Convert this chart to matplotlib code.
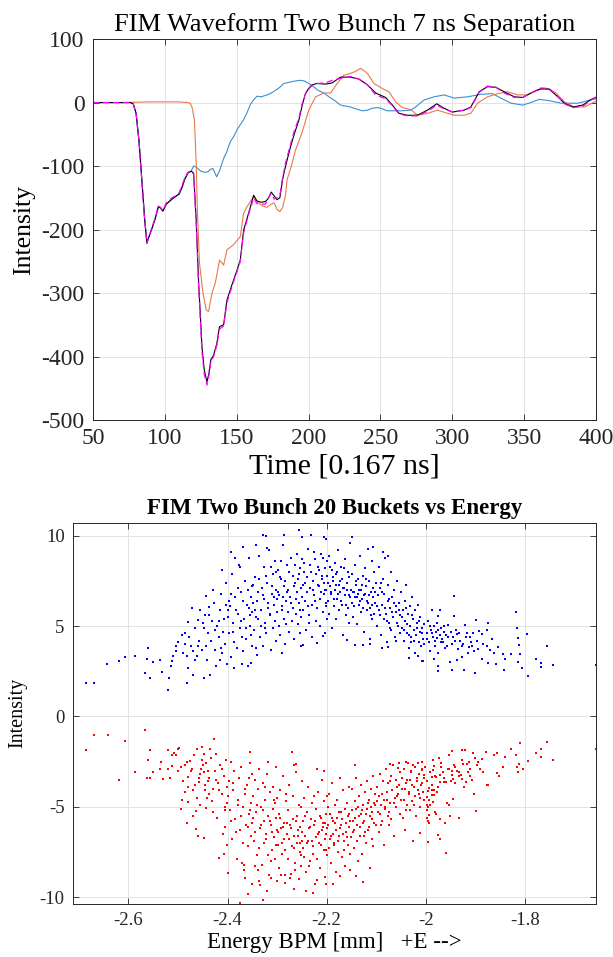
import numpy as np
import matplotlib
matplotlib.use("Agg")
import matplotlib.pyplot as plt

plt.rcParams['font.family'] = ['Liberation Serif', 'DejaVu Serif']
plt.rcParams['axes.unicode_minus'] = False

# ---------------- top panel: waveforms ----------------
# bunch 1 alone (blue)
t_b1 = [50, 60, 70, 76, 78, 80, 82, 84, 86, 87.5, 90, 93, 95.5, 97, 98.6, 101, 105, 108, 110, 112,
        114, 116, 118.3, 120, 122, 125, 128, 130, 132, 133.5, 136, 138, 140.9, 143, 145.5, 148, 150.2, 153, 154.8, 157,
        159.5, 162, 164.2, 167, 171.1, 174, 176.9, 180, 182.7, 185, 188.6, 191, 194.4, 197, 200.1, 203.6, 206, 210.6, 213, 217.6,
        222.2, 229.2, 231.5, 237.4, 240.9, 244.4, 247.8, 250.1, 254.8, 259.4, 264.1, 271.1, 274.5, 280.3, 287.3, 294.3, 301.3, 310.6, 319.9, 328,
        333.8, 340.8, 349, 354.7, 360.5, 367.5, 375.7, 387.3, 394.3, 400]
y_b1 = [0, 0, 0, 0, -2, -17, -60, -122, -185, -220, -205, -185, -164, -166, -171, -160, -152, -147, -144, -133,
        -120, -111, -108, -100, -102, -108, -110, -109, -105, -104, -117, -108, -88, -78, -62, -53, -43, -33, -27, -17,
        -3, 5, 10, 9, 12, 15, 19, 24, 30, 31, 33, 34, 35, 34, 30, 25, 20, 15, 11, 4,
        -4, -7, -9, -13, -12, -9, -8, -9, -13, -13, -13, -12, -7, 4, 9, 12, 7, 9, 13, 14,
        7, -1, -4, 0, 5, 3, -1, -1, 3, 6]

# bunch 2 alone (orange)
t_b2 = [50, 70, 90, 110, 116, 117.6, 119, 120.6, 121.8, 122.7, 124.1, 126.5, 128.8, 130.4, 132.8,
        135.1, 138.1, 140.9, 143.2, 147.8, 152.5, 154.8, 157.2, 161.8, 165, 168, 171, 174, 176, 178,
        180, 182, 184, 185, 188, 190.9, 194.4, 196.7, 200.1, 204.8, 210.6, 215.3, 219.9, 224.5, 229.2,
        232.7, 236.2, 240.9, 245.5, 251.3, 255.9, 260.6, 265.3, 271.1, 275.7, 282.7, 289.7, 296.7, 301.3, 308.2,
        312.9, 317.6, 324.5, 331.5, 338.5, 345.5, 352.4, 359.4, 366.4, 372.2, 378, 385, 392, 398.9, 400]
y_b2 = [0, 0, 1, 1, 0, -1, -8, -28, -95, -174, -253, -300, -327, -329, -300,
        -284, -248, -256, -232, -224, -211, -174, -164, -148, -158, -163, -165, -160, -158, -168,
        -172, -165, -145, -122, -100, -75, -54, -38, -12, 9, 15, 15, 30, 43, 46,
        49, 54, 46, 30, 22, 17, 1, -8, -11, -20, -17, -12, -17, -20, -20,
        -17, -1, 9, 14, 17, 12, 12, 20, 22, 15, 1, -7, -7, 1, 2]

# two bunches measured (black) and sum of singles (magenta)
t_two = [50, 60, 70, 76, 78, 80, 82, 84, 86, 87.5, 90, 93, 95.5, 97, 98.6, 101, 105, 108, 110, 112,
         114, 116, 118.3, 120, 121.8, 123.4, 124.6, 125.8, 127.4, 129.3, 130.7, 132, 133.9, 136.2, 138,
         140.9, 143.2, 146.7, 150.2, 152.5, 154.8, 158.3, 161.8, 164, 167, 170, 172, 174, 176, 178,
         180, 182, 184, 187.4, 190, 193.2, 195.5, 197.8, 200, 202.5, 206, 211.8, 216.4, 222.2, 229.2,
         235, 240.9, 246.7, 253.6, 258.3, 262.9, 268.8, 275.7, 282.7, 289.2, 294.3, 300.1, 308.2, 312.9, 318.7,
         324.5, 330.3, 336.1, 343.1, 348.9, 354.7, 361.7, 367.5, 373.4, 378, 383.8, 390.8, 396.6, 400]
y_meas = [0, 0, 0, 0, -2, -17, -60, -122, -185, -220, -205, -185, -164, -166, -171, -160, -152, -147, -144, -133,
          -120, -111, -108, -111, -185, -279, -331, -384, -421, -440, -426, -405, -398, -379, -353,
          -350, -311, -287, -264, -248, -201, -174, -146, -155, -157, -156, -151, -141, -147, -153,
          -150, -120, -100, -70, -50, -28, -5, 14, 22, 28, 30, 29, 31, 40, 40,
          37, 28, 15, 8, -4, -17, -20, -20, -12, -2, -9, -15, -12, -7, 17,
          25, 24, 17, 9, 8, 15, 22, 21, 9, -1, -7, -4, 5, 8]
y_sum = [0, 0, 0, 0, -2, -18, -62, -124, -187, -222, -204, -183, -163, -165, -170, -158, -150, -146, -142, -130,
         -118, -110, -107, -113, -190, -285, -338, -392, -428, -445, -430, -408, -400, -382, -357,
         -352, -315, -290, -266, -250, -205, -176, -150, -159, -160, -160, -150, -143, -152, -150,
         -146, -118, -95, -66, -45, -25, -2, 13, 21, 27, 30, 31, 35, 38, 41,
         37, 28, 12, 6, -5, -18, -21, -21, -14, -4, -10, -15, -12, -8, 16,
         26, 24, 15, 8, 8, 15, 23, 22, 10, -2, -8, -6, 4, 9]

# ---------------- bottom panel: intensity vs energy ----------------
blue_x = [
    -2.715, -2.686, -2.670, -2.643, -2.620, -2.607, -2.587, -2.566, -2.561, -2.556,
    -2.562, -2.551, -2.536, -2.533, -2.521, -2.519, -2.515, -2.512, -2.510, -2.504,
    -2.500, -2.492, -2.486, -2.482, -2.479, -2.480, -2.482, -2.474, -2.471, -2.469,
    -2.460, -2.455, -2.462, -2.459, -2.448, -2.445, -2.444, -2.438, -2.435, -2.429,
    -2.418, -2.424, -2.415, -2.398, -2.386, -2.370, -2.505, -2.490, -2.485, -2.477,
    -2.470, -2.466, -2.458, -2.452, -2.450, -2.465, -2.240, -2.255, -2.328, -2.323,
    -2.286, -2.250, -2.232, -2.205, -2.201, -2.149, -2.343, -2.321, -2.106, -2.087,
    -2.076, -2.394, -2.385, -2.368, -2.374, -2.412, -2.352, -2.343, -2.291, -2.247,
    -2.220, -2.207, -2.158, -2.143, -2.126, -2.113, -2.089, -2.076, -2.059, -2.033,
    -2.015, -2.008,
    -2.447, -2.441, -2.437, -2.433, -2.428, -2.425, -2.421, -2.418, -2.414, -2.411, -2.408, -2.405, -2.403, -2.402, -2.400,
    -2.398, -2.396, -2.393, -2.391, -2.389, -2.386, -2.384, -2.381, -2.379, -2.377, -2.374, -2.372, -2.369, -2.367, -2.365,
    -2.362, -2.360, -2.358, -2.356, -2.355, -2.353, -2.352, -2.351, -2.350, -2.350,
    -2.348, -2.346, -2.344, -2.343, -2.341, -2.339, -2.337, -2.335, -2.333, -2.331, -2.329, -2.327, -2.326, -2.324, -2.322,
    -2.320, -2.318, -2.316, -2.315, -2.313, -2.311, -2.309, -2.308, -2.306, -2.305, -2.304, -2.303, -2.302, -2.301, -2.300,
    -2.299, -2.297, -2.296, -2.294, -2.292, -2.290, -2.289, -2.287, -2.285, -2.284, -2.282, -2.280, -2.278, -2.277, -2.275,
    -2.273, -2.272, -2.270, -2.268, -2.267, -2.265, -2.263, -2.262, -2.260, -2.259, -2.257, -2.256, -2.255, -2.254, -2.253,
    -2.252, -2.251, -2.250, -2.250, -2.251,
    -2.248, -2.247, -2.245, -2.244, -2.242, -2.240, -2.239, -2.237, -2.235, -2.234, -2.232, -2.230, -2.229, -2.227, -2.226,
    -2.224, -2.222, -2.221, -2.219, -2.217, -2.216, -2.214, -2.213, -2.211, -2.210, -2.208, -2.207, -2.206, -2.205, -2.204,
    -2.203, -2.202, -2.201, -2.200, -2.200,
    -2.199, -2.198, -2.196, -2.195, -2.193, -2.192, -2.190, -2.189, -2.187, -2.186, -2.184, -2.183, -2.181, -2.180, -2.178,
    -2.177, -2.175, -2.174, -2.172, -2.171, -2.169, -2.168, -2.166, -2.165, -2.163, -2.162, -2.160, -2.159, -2.157, -2.156,
    -2.155, -2.154, -2.153, -2.152, -2.151,
    -2.149, -2.148, -2.146, -2.145, -2.143, -2.142, -2.140, -2.139, -2.137, -2.136, -2.134, -2.133, -2.131, -2.130, -2.128,
    -2.127, -2.125, -2.124, -2.122, -2.121, -2.119, -2.118, -2.116, -2.115, -2.113, -2.112, -2.110, -2.109, -2.108, -2.107,
    -2.106, -2.105, -2.104, -2.102, -2.101,
    -2.099, -2.097, -2.095, -2.094, -2.092, -2.090, -2.089, -2.087, -2.085, -2.084, -2.082, -2.080, -2.079, -2.077, -2.075,
    -2.074, -2.072, -2.070, -2.069, -2.067, -2.065, -2.064, -2.062, -2.060, -2.059, -2.057, -2.055, -2.054, -2.052, -2.051,
    -2.049, -2.047, -2.046, -2.044, -2.042, -2.041, -2.039, -2.037, -2.036, -2.034, -2.032, -2.031, -2.029, -2.027,
    -2.026, -2.024, -2.022, -2.021, -2.019, -2.017, -2.016, -2.014, -2.012, -2.011, -2.009, -2.007, -2.005, -2.003,
    -1.971, -1.975, -1.954, -1.978, -1.981, -1.991, -1.964, -1.961, -1.975, -1.983, -2.005, -1.951, -1.975, -1.975, -1.947,
    -1.998, -1.995, -1.993, -1.990, -1.988, -1.986, -1.984, -1.980, -1.977, -1.972, -1.969, -1.966, -1.962, -1.958, -1.956,
    -1.943, -1.942, -1.921, -1.898, -1.874, -1.892, -1.917, -1.887, -1.877, -1.937,
    -1.944, -1.934, -1.912, -1.894, -1.877, -1.887, -1.927, -1.937, -1.923, -1.900,
    -1.874, -1.862, -1.853, -1.843, -1.840, -1.842, -1.828, -1.818, -1.815, -1.814,
    -1.812, -1.810, -1.813, -1.805, -1.795, -1.793, -1.778, -1.768, -1.767, -1.754,
    -1.742, -1.657,
    -1.930, -1.925, -1.918, -1.908, -1.903, -1.896, -1.884, -1.870, -1.866, -1.858, -1.947, -1.939, -1.915, -1.905,
]
blue_y = [
    1.01, 1.88, 1.84, 2.90, 3.07, 3.29, 3.33, 2.39, 3.78, 2.11,
    3.16, 3.01, 3.12, 2.44, 1.47, 2.15, 2.79, 3.05, 3.34, 3.60,
    4.14, 4.52, 4.63, 1.88, 2.68, 5.22, 3.34, 3.89, 6.01, 2.32,
    5.33, 5.88, 3.34, 3.89, 2.11, 5.63, 6.69, 6.07, 2.32, 7.02,
    5.27, 2.79, 3.12, 6.41, 2.70, 2.88, 3.9, 3.5, 4.0, 4.4,
    3.6, 4.9, 4.2, 3.7, 5.2, 3.1, 10.73, 10.33, 10.06, 10.0,
    10.06, 9.96, 10.06, 9.93, 9.82, 9.96, 9.5, 9.32, 9.38, 9.13,
    8.86, 9.13, 8.77, 9.41, 8.25, 8.12, 2.98, 3.81, 3.53, 3.93,
    4.08, 4.45, 4.26, 3.93, 3.93, 3.99, 3.81, 3.84, 4.17, 3.25,
    3.34, 3.07,
    4.9, 3.1, 5.6, 4.2, 6.3, 3.7, 5.0, 4.4, 6.8, 3.5, 5.4, 4.0, 7.4, 2.9, 5.9,
    4.6, 6.1, 3.3, 7.9, 5.2, 4.1, 6.6, 3.8, 5.7, 8.4, 4.9, 6.9, 3.6, 5.4, 7.5,
    4.3, 6.2, 2.8, 8.8, 5.0, 6.6, 4.5, 7.2, 3.9, 5.8,
    6.3, 4.8, 7.7, 5.5, 3.4, 6.9, 8.9, 4.4, 5.9, 7.1, 3.9, 6.5, 8.3, 5.2, 4.6,
    7.4, 6.0, 9.2, 5.6, 3.7, 6.8, 7.9, 4.9, 6.2, 5.3, 8.6, 4.2, 7.0, 5.8, 6.5,
    8.1, 5.0, 6.7, 4.5, 7.6, 6.1, 9.5, 5.4, 7.2, 4.0, 6.4, 8.4, 5.8, 7.0, 4.7,
    6.6, 8.8, 5.3, 7.8, 6.0, 4.3, 7.4, 5.7, 9.0, 6.9, 5.1, 7.9, 6.3, 4.6, 8.2,
    7.1, 5.5, 6.6, 8.7, 3.9,
    7.3, 5.9, 8.5, 6.4, 4.8, 7.7, 6.9, 9.3, 5.6, 7.1, 8.0, 6.2, 4.4, 7.5, 6.7,
    8.7, 5.3, 7.9, 6.0, 8.3, 7.2, 5.0, 6.5, 9.0, 7.6, 5.8, 8.8, 6.8, 7.4, 4.6,
    8.2, 6.1, 7.0, 8.6, 5.4,
    7.8, 6.4, 8.9, 5.7, 7.2, 6.8, 8.1, 4.9, 7.5, 6.1, 8.5, 7.0, 5.4, 7.9, 6.5,
    9.2, 7.3, 5.9, 6.9, 8.3, 7.6, 6.2, 4.5, 7.1, 8.7, 6.7, 5.6, 7.4, 6.0, 8.0,
    7.7, 5.2, 6.6, 9.6, 7.0,
    6.3, 7.9, 5.5, 6.9, 8.4, 6.6, 7.3, 5.1, 6.8, 7.6, 6.2, 8.9, 7.0, 5.8, 6.5,
    7.8, 4.7, 6.7, 8.2, 7.2, 5.9, 6.4, 9.3, 7.5, 6.0, 4.3, 6.9, 8.6, 5.4, 7.1,
    6.6, 8.0, 5.7, 6.3, 7.4,
    5.0, 6.7, 8.3, 5.9, 7.1, 4.5, 6.2, 7.6, 5.4, 6.8, 8.8, 5.7, 4.1, 6.4, 7.3,
    5.2, 6.0, 8.0, 4.8, 6.6, 5.5, 7.0, 4.4, 6.1, 5.8, 7.5, 5.0, 6.3, 4.6, 5.6,
    6.9, 4.9, 5.9, 4.2, 6.4, 5.3, 7.3, 4.6, 5.7, 3.8, 6.1, 5.0, 4.4, 6.6,
    5.4, 4.8, 3.5, 5.9, 4.5, 5.2, 6.2, 4.1, 4.7, 5.5, 3.9, 4.9, 4.3, 5.1,
    5.88, 5.55, 5.09, 4.36, 3.89, 3.62, 4.12, 3.81, 3.49, 3.2, 3.07, 3.01, 2.78, 2.52, 2.57,
    4.6, 5.3, 4.1, 4.8, 5.9, 4.4, 5.0, 4.7, 5.2, 4.5, 4.9, 4.3, 4.7, 4.5, 3.9,
    6.69, 5.55, 5.04, 5.33, 5.18, 4.72, 4.63, 4.54, 4.78, 4.54,
    4.41, 3.71, 3.86, 3.75, 3.89, 3.16, 3.31, 3.12, 2.57, 2.43,
    2.98, 3.53, 3.84, 3.44, 3.16, 2.56, 3.47, 5.77, 4.91, 4.32,
    3.93, 3.44, 3.01, 2.70, 4.59, 2.24, 3.20, 2.94, 2.74, 3.89,
    2.83, 2.83,
    4.2, 4.0, 4.4, 4.1, 3.6, 4.2, 4.0, 3.7, 4.3, 2.9, 4.0, 4.8, 3.5, 4.6,
]
# extra points in the dense core of the blue cloud
blue_x2 = [
    -2.439, -2.431, -2.426, -2.416, -2.409, -2.404, -2.443, -2.413,
    -2.399, -2.394, -2.388, -2.383, -2.378, -2.373, -2.368, -2.363, -2.359, -2.354, -2.357, -2.371,
    -2.349, -2.345, -2.340, -2.336, -2.332, -2.328, -2.323, -2.319, -2.314, -2.310, -2.307, -2.303, -2.338, -2.325, -2.312,
    -2.298, -2.295, -2.291, -2.288, -2.283, -2.279, -2.276, -2.271, -2.266, -2.261, -2.258, -2.253, -2.293, -2.281, -2.264,
    -2.249, -2.243, -2.238, -2.233, -2.228, -2.223, -2.218, -2.215, -2.212, -2.209, -2.204, -2.201, -2.236, -2.225, -2.246,
    -2.197, -2.194, -2.191, -2.188, -2.185, -2.182, -2.179, -2.176, -2.173, -2.170, -2.167, -2.164, -2.161, -2.158, -2.155,
    -2.147, -2.144, -2.141, -2.138, -2.135, -2.132, -2.129, -2.126, -2.123, -2.120, -2.117, -2.114, -2.111, -2.108, -2.103,
    -2.098, -2.093, -2.088, -2.083, -2.078, -2.073, -2.068, -2.063, -2.058, -2.053, -2.091, -2.071,
    -2.048, -2.043, -2.038, -2.033, -2.028, -2.023, -2.018, -2.013, -2.008, -2.004, -2.040, -2.030,
    -1.997, -1.992, -1.987, -1.982, -1.976, -1.970, -1.963, -1.955, -1.949, -1.940, -1.933, -1.926, -1.911, -1.906,
]
blue_y2 = [
    4.6, 5.3, 4.8, 5.9, 4.7, 6.2, 3.9, 3.8,
    5.5, 6.8, 4.7, 5.9, 7.1, 5.3, 6.4, 4.9, 7.0, 5.6, 6.0, 4.4,
    7.3, 5.9, 6.4, 7.6, 5.0, 6.7, 7.8, 6.3, 5.7, 7.2, 6.6, 8.0, 5.4, 4.9, 8.3,
    6.9, 7.7, 5.9, 6.6, 7.5, 6.9, 8.0, 6.3, 7.2, 6.5, 7.6, 5.9, 8.6, 5.1, 8.4,
    6.6, 7.4, 6.1, 8.4, 7.0, 6.4, 7.3, 8.1, 6.9, 7.8, 7.0, 6.3, 5.2, 9.1, 8.0,
    7.4, 8.3, 6.9, 7.7, 6.5, 7.3, 8.0, 6.8, 7.5, 6.4, 7.1, 8.2, 6.2, 7.0, 6.7,
    6.9, 6.1, 7.5, 6.6, 7.0, 6.4, 7.3, 6.0, 6.8, 7.6, 6.3, 6.7, 5.6, 6.2, 6.9,
    6.1, 5.6, 6.9, 6.0, 5.3, 6.5, 5.8, 6.3, 5.2, 5.9, 7.4, 4.9,
    5.5, 4.8, 5.1, 4.5, 5.6, 4.2, 4.9, 5.3, 4.6, 4.0, 6.0, 4.1,
    4.3, 5.0, 4.6, 4.2, 4.8, 4.1, 5.0, 4.4, 4.7, 4.2, 4.6, 3.9, 4.4, 3.9,
]

red_x = [
    -2.715, -2.686, -2.669, -2.642, -2.607, -2.620, -2.587, -2.567, -2.560, -2.556,
    -2.563, -2.556, -2.550, -2.536, -2.535, -2.530, -2.521, -2.521, -2.517, -2.512,
    -2.508, -2.504, -2.500, -2.497, -2.512, -2.494, -2.494, -2.491, -2.486, -2.481,
    -2.480, -2.479, -2.481, -2.476, -2.474, -2.467, -2.464, -2.461, -2.460, -2.462,
    -2.464, -2.458, -2.453, -2.451, -2.447, -2.448, -2.443, -2.445, -2.440, -2.437,
    -2.435, -2.428, -2.429, -2.423, -2.417, -2.410, -2.407, -2.405, -2.401, -2.399,
    -2.374, -2.364, -2.366, -2.359, -2.329, -2.320, -2.336, -2.335, -2.300, -2.266,
    -2.242, -2.227, -2.201, -2.220, -2.187, -2.274, -2.284, -2.312, -2.172, -2.141,
    -2.126, -2.153, -2.345, -2.269, -2.220, -2.205, -2.142, -2.261, -2.266, -2.355,
    -2.318, -2.072, -2.055, -2.040, -2.025, -2.015, -2.008, -2.480, -2.470, -2.456,
    -2.490, -2.472, -2.466, -2.455, -2.452, -2.500, -2.485, -2.470, -2.457, -2.449,
    -1.656, -1.754, -1.810, -1.767, -1.777, -1.768, -1.742, -1.794, -1.828, -1.818,
    -1.812, -1.815, -1.813, -1.804, -1.843, -1.840, -1.855, -1.862, -1.855, -1.851,
    -1.878, -1.874, -1.877, -1.902, -1.898, -1.932, -1.950, -1.961, -1.971, -1.975,
    -1.971, -1.995, -1.958, -2.012, -1.944, -1.952, -1.956, -1.927, -1.920, -1.947,
    -1.952, -1.973, -1.985, -1.904, -1.900, -1.886, -1.894, -1.912, -1.917, -1.925,
    -1.942, -1.952, -1.947, -1.937, -1.932, -1.914, -1.910, -1.919, -1.923, -1.929,
    -1.927, -1.944, -1.940, -1.947, -1.964, -1.971, -1.971, -1.963, -1.958, -1.969,
    -1.983, -1.986, -1.979, -1.988, -2.001, -2.008, -2.004, -1.890, -1.885, -1.896,
    -1.987, -1.988, -1.983, -1.993, -1.995, -1.997, -1.993, -1.998, -1.995, -1.992,
    -1.997, -1.993, -1.998, -1.996, -1.993, -1.985, -1.983, -1.978, -1.981, -1.979,
    -2.448, -2.444, -2.441, -2.437, -2.433, -2.430, -2.426, -2.422, -2.419, -2.415, -2.412, -2.408, -2.405, -2.403, -2.401,
    -2.398, -2.396, -2.393, -2.391, -2.389, -2.386, -2.384, -2.381, -2.379, -2.377, -2.374, -2.372, -2.369, -2.367, -2.365,
    -2.362, -2.360, -2.358, -2.356, -2.355, -2.353, -2.352, -2.351, -2.350, -2.350,
    -2.348, -2.346, -2.344, -2.343, -2.341, -2.339, -2.337, -2.335, -2.333, -2.331, -2.329, -2.327, -2.326, -2.324, -2.322,
    -2.320, -2.318, -2.316, -2.315, -2.313, -2.311, -2.309, -2.308, -2.306, -2.305, -2.304, -2.303, -2.302, -2.301, -2.300,
    -2.299, -2.297, -2.296, -2.294, -2.292, -2.290, -2.289, -2.287, -2.285, -2.284, -2.282, -2.280, -2.278, -2.277, -2.275,
    -2.273, -2.272, -2.270, -2.268, -2.267, -2.265, -2.263, -2.262, -2.260, -2.259, -2.257, -2.256, -2.255, -2.254, -2.253,
    -2.252, -2.251, -2.250, -2.250, -2.251,
    -2.248, -2.247, -2.245, -2.244, -2.242, -2.240, -2.239, -2.237, -2.235, -2.234, -2.232, -2.230, -2.229, -2.227, -2.226,
    -2.224, -2.222, -2.221, -2.219, -2.217, -2.216, -2.214, -2.213, -2.211, -2.210, -2.208, -2.207, -2.206, -2.205, -2.204,
    -2.203, -2.202, -2.201, -2.200, -2.200,
    -2.199, -2.198, -2.196, -2.195, -2.193, -2.192, -2.190, -2.189, -2.187, -2.186, -2.184, -2.183, -2.181, -2.180, -2.178,
    -2.177, -2.175, -2.174, -2.172, -2.171, -2.169, -2.168, -2.166, -2.165, -2.163, -2.162, -2.160, -2.159, -2.157, -2.156,
    -2.155, -2.154, -2.153, -2.152, -2.151,
    -2.149, -2.148, -2.146, -2.145, -2.143, -2.142, -2.140, -2.139, -2.137, -2.136, -2.134, -2.133, -2.131, -2.130, -2.128,
    -2.127, -2.125, -2.124, -2.122, -2.121, -2.119, -2.118, -2.116, -2.115, -2.113, -2.112, -2.110, -2.109, -2.108, -2.107,
    -2.106, -2.105, -2.104, -2.102, -2.101,
    -2.099, -2.097, -2.095, -2.094, -2.092, -2.090, -2.089, -2.087, -2.085, -2.084, -2.082, -2.080, -2.079, -2.077, -2.075,
    -2.074, -2.072, -2.070, -2.069, -2.067, -2.065, -2.064, -2.062, -2.060, -2.059, -2.057, -2.055, -2.054, -2.052, -2.051,
    -2.049, -2.047, -2.046, -2.044, -2.042, -2.041, -2.039, -2.037, -2.036, -2.034, -2.032, -2.031, -2.029, -2.027,
    -2.026, -2.024, -2.022, -2.021, -2.019, -2.017, -2.016, -2.014, -2.012, -2.011, -2.009, -2.007, -2.005, -2.003,
]
red_y = [
    -0.41, -1.84, -1.01, -1.01, -1.38, -3.53, -3.07, -0.77, -2.39, -1.88,
    -3.40, -3.40, -3.07, -2.92, -2.52, -3.44, -1.88, -2.92, -3.40, -2.15,
    -2.00, -2.15, -1.82, -1.75, -2.76, -2.81, -5.10, -4.63, -2.67, -2.52,
    -3.35, -4.73, -5.92, -2.48, -3.03, -2.15, -6.23, -1.79, -6.60, -4.54,
    -5.24, -3.62, -2.92, -1.69, -2.06, -6.75, -5.06, -4.08, -3.58, -4.32,
    -1.79, -1.24, -5.28, -2.06, -7.82, -6.53, -7.60, -5.19, -7.12, -8.66,
    -10.35, -8.96, -8.22, -9.86, -10.15, -9.69, -9.14, -9.32, -9.14, -9.54,
    -9.69, -9.78, -9.29, -9.05, -9.29, -8.96, -8.77, -8.92, -8.86, -8.86,
    -9.18, -8.49, -8.31, -1.97, -2.89, -3.03, -2.70, -2.61, -2.70, -1.97,
    -2.52, -2.65, -2.85, -2.55, -2.70, -2.60, -2.90, -3.9, -4.1, -3.2,
    -3.6, -2.9, -3.8, -4.9, -2.4, -3.0, -4.2, -5.5, -3.4, -2.7,
    -1.82, -1.42, -1.46, -1.79, -2.01, -2.25, -2.39, -2.48, -1.79, -2.15,
    -2.61, -2.80, -3.07, -2.89, -2.80, -2.25, -2.01, -2.12, -3.13, -3.29,
    -1.97, -3.77, -3.81, -4.32, -5.24, -5.65, -5.50, -5.92, -5.68, -6.56,
    -6.80, -6.93, -7.58, -6.48, -4.58, -4.91, -4.82, -1.88, -1.88, -1.91,
    -2.12, -2.28, -2.39, -2.01, -2.30, -2.34, -2.52, -2.52, -2.61, -2.61,
    -2.67, -2.92, -3.00, -3.03, -3.07, -3.07, -3.29, -3.62, -3.90, -3.25,
    -3.44, -3.44, -3.68, -3.25, -3.07, -3.22, -3.62, -3.62, -3.62, -2.80,
    -2.74, -2.98, -3.35, -3.35, -2.80, -2.98, -3.25, -2.9, -3.1, -2.7,
    -4.05, -4.35, -4.35, -3.95, -4.15, -4.45, -4.60, -4.90, -5.00, -4.90,
    -5.20, -5.45, -5.60, -5.80, -5.90, -4.75, -4.10, -4.20, -5.30, -5.40,
    -3.1, -2.6, -4.5, -3.4, -2.3, -4.0, -3.0, -5.6, -3.7, -2.7, -4.3, -3.3, -6.1, -2.4, -4.8,
    -3.6, -5.2, -2.5, -6.8, -4.1, -3.0, -5.7, -7.9, -4.6, -3.4, -6.3, -2.8, -5.0, -8.5, -4.3,
    -6.0, -3.8, -7.2, -5.4, -2.6, -4.8, -6.6, -3.2, -5.9, -9.3,
    -4.4, -6.9, -3.5, -5.3, -7.7, -4.0, -2.9, -6.2, -5.0, -8.2, -3.7, -5.8, -7.0, -4.6, -6.5,
    -3.2, -5.5, -8.8, -4.2, -6.0, -7.4, -5.1, -3.9, -6.7, -4.8, -7.9, -5.6, -2.8, -6.3, -4.5,
    -7.1, -5.4, -8.4, -4.1, -6.2, -7.6, -3.3, -5.9, -6.8, -9.2, -4.7, -6.5, -7.9, -5.2, -3.8,
    -6.0, -8.7, -7.2, -4.4, -5.7, -6.6, -8.1, -3.1, -7.0, -5.5, -6.3, -9.0, -4.9, -7.5, -6.1,
    -5.0, -8.3, -6.9, -3.6, -7.7,
    -5.8, -7.3, -4.5, -6.6, -8.6, -5.3, -7.0, -3.9, -6.2, -8.0, -5.7, -6.9, -4.8, -7.6, -6.0,
    -9.3, -5.1, -6.7, -7.9, -4.2, -6.4, -5.5, -8.4, -7.1, -3.5, -6.1, -5.9, -7.4, -4.7, -6.8,
    -8.9, -5.4, -6.5, -7.7, -4.4,
    -6.2, -5.0, -7.3, -4.3, -6.8, -8.1, -5.6, -3.7, -6.5, -7.0, -4.9, -5.9, -8.6, -6.3, -4.6,
    -7.5, -5.3, -6.6, -3.4, -6.0, -7.8, -5.7, -4.1, -6.9, -5.1, -8.3, -6.4, -4.8, -7.1, -5.5,
    -6.1, -3.9, -7.6, -5.8, -6.7,
    -5.2, -4.0, -6.4, -7.3, -4.7, -5.6, -3.4, -6.9, -5.0, -8.0, -4.4, -6.1, -5.4, -3.8, -7.6,
    -4.9, -6.6, -5.8, -4.2, -7.0, -5.1, -3.6, -6.3, -4.6, -8.4, -5.5, -4.0, -6.8, -5.3, -3.3,
    -7.2, -4.8, -5.9, -4.3, -6.0,
    -3.9, -5.3, -4.4, -6.4, -3.2, -4.9, -5.8, -3.6, -4.6, -7.1, -5.1, -2.9, -4.2, -5.5, -3.7,
    -6.0, -4.8, -3.3, -5.7, -4.1, -2.7, -6.6, -4.5, -3.5, -5.0, -3.9, -4.3, -2.6, -5.4, -3.1,
    -4.6, -3.4, -5.6, -2.9, -4.0, -6.3, -3.7, -4.9, -2.6, -4.3, -5.2, -3.5, -3.0, -4.7,
    -6.9, -3.9, -4.4, -2.8, -5.5, -3.6, -4.1, -3.2, -5.0, -4.5, -3.8, -2.5, -4.2, -3.4,
]
# extra points in the dense core of the red cloud
red_x2 = [
    -2.446, -2.439, -2.432, -2.424, -2.417, -2.411, -2.406, -2.402,
    -2.399, -2.394, -2.388, -2.383, -2.378, -2.373, -2.368, -2.364, -2.359, -2.354, -2.357, -2.371,
    -2.349, -2.345, -2.340, -2.336, -2.332, -2.328, -2.323, -2.319, -2.314, -2.310, -2.307, -2.303, -2.338, -2.325, -2.312,
    -2.298, -2.295, -2.291, -2.288, -2.283, -2.279, -2.276, -2.271, -2.266, -2.261, -2.258, -2.253, -2.293, -2.281, -2.264,
    -2.249, -2.243, -2.238, -2.233, -2.228, -2.223, -2.218, -2.215, -2.212, -2.209, -2.204, -2.201, -2.236, -2.225, -2.246,
    -2.197, -2.194, -2.191, -2.188, -2.185, -2.182, -2.179, -2.176, -2.173, -2.170, -2.167, -2.164, -2.161, -2.158, -2.155,
    -2.147, -2.144, -2.141, -2.138, -2.135, -2.132, -2.129, -2.126, -2.123, -2.120, -2.117, -2.114, -2.111, -2.108, -2.103,
    -2.098, -2.093, -2.088, -2.083, -2.078, -2.073, -2.068, -2.063, -2.058, -2.053, -2.091, -2.071,
    -2.048, -2.043, -2.038, -2.033, -2.028, -2.023, -2.018, -2.013, -2.008, -2.004, -2.040, -2.030,
    -1.997, -1.992, -1.987, -1.982, -1.976, -1.970, -1.963, -1.955, -1.949, -1.940, -1.933, -1.926, -1.911, -1.906,
]
red_y2 = [
    -3.8, -3.0, -4.7, -3.5, -4.1, -2.9, -5.0, -3.9,
    -4.4, -5.8, -3.7, -6.4, -4.9, -5.5, -7.0, -4.0, -6.1, -5.2, -3.4, -8.1,
    -5.6, -6.4, -4.9, -7.3, -6.0, -5.2, -6.8, -7.7, -5.8, -6.4, -4.6, -7.1, -8.5, -3.9, -8.0,
    -6.4, -5.6, -7.0, -6.1, -7.4, -5.9, -6.8, -6.2, -7.3, -5.8, -6.6, -7.0, -8.8, -4.3, -8.5,
    -6.4, -5.5, -6.9, -6.1, -7.2, -5.8, -6.5, -7.0, -5.6, -6.3, -5.9, -7.4, -8.3, -4.4, -7.8,
    -6.0, -5.4, -6.6, -5.8, -7.1, -6.3, -5.6, -6.9, -6.2, -5.3, -6.5, -7.4, -5.9, -6.7, -5.4,
    -5.8, -6.3, -5.1, -6.0, -5.5, -6.6, -5.2, -5.9, -6.4, -5.4, -4.8, -6.1, -5.0, -5.7, -4.9,
    -4.7, -5.4, -4.3, -5.0, -4.6, -5.3, -4.1, -4.8, -4.4, -3.8, -6.0, -3.6,
    -4.0, -4.6, -3.5, -4.2, -3.8, -4.9, -3.4, -4.3, -3.7, -4.6, -5.2, -3.1,
    -3.6, -3.1, -3.8, -3.3, -3.9, -2.6, -3.4, -2.9, -3.6, -2.8, -3.3, -2.4, -2.9, -3.5,
]

fig = plt.figure(figsize=(6.13, 9.57), dpi=100)

axis_col = '#262626'
grid_col = '#e3e3e3'


def style(ax, size, pad):
    ax.grid(True, color=grid_col, linewidth=0.7)
    ax.set_axisbelow(True)
    ax.tick_params(direction='in', top=True, right=True, length=4, width=0.6,
                   colors=axis_col, labelsize=size, pad=pad)
    for s in ax.spines.values():
        s.set_color(axis_col)
        s.set_linewidth(0.7)


ax1 = fig.add_axes([0.1517, 0.5611, 0.8206, 0.3981])
ax1.plot(t_b1, y_b1, color='#3b8fd0', lw=0.8)
ax1.plot(t_b2, y_b2, color='#e8794b', lw=0.8)
ax1.plot(t_two, y_meas, color='black', lw=0.8)
ax1.plot(t_two, y_sum, color='#ff00ff', lw=0.9, ls=(0, (5, 3)))
ax1.set_xlim(50, 400)
ax1.set_ylim(-500, 100)
ax1.set_xticks([50, 100, 150, 200, 250, 300, 350, 400])
ax1.set_yticks([-500, -400, -300, -200, -100, 0, 100])
style(ax1, 17, 6)
ax1.set_title('FIM Waveform Two Bunch 7 ns Separation', fontsize=19, pad=6)
ax1.set_xlabel('Time [0.167 ns]', fontsize=21.5, labelpad=3)
ax1.set_ylabel('Intensity', fontsize=18.5)
ax1.yaxis.set_label_coords(-0.115, 0.5)

ax2 = fig.add_axes([0.1191, 0.0557, 0.8532, 0.3981])
ax2.plot(blue_x, blue_y, ls='none', marker='s', ms=2.1, mew=0, color='#0000ff')
ax2.plot(blue_x2, blue_y2, ls='none', marker='s', ms=2.1, mew=0, color='#0000ff')
ax2.plot(red_x, red_y, ls='none', marker='s', ms=2.1, mew=0, color='#ff0000')
ax2.plot(red_x2, red_y2, ls='none', marker='s', ms=2.1, mew=0, color='#ff0000')
ax2.set_xlim(-2.712, -1.656)
ax2.set_ylim(-10.37, 10.73)
ax2.set_xticks([-2.6, -2.4, -2.2, -2.0, -1.8])
ax2.set_xticklabels(['-2.6', '-2.4', '-2.2', '-2', '-1.8'])
ax2.set_yticks([-10, -5, 0, 5, 10])
style(ax2, 13.5, 6)
ax2.set_title('FIM Two Bunch 20 Buckets vs Energy', fontsize=16.5, fontweight='bold', pad=6)
ax2.set_xlabel('Energy BPM [mm]   +E -->', fontsize=16.5, labelpad=2)
ax2.set_ylabel('Intensity', fontsize=14.5)
ax2.yaxis.set_label_coords(-0.088, 0.5)

fig.savefig('out.png', dpi=100)
